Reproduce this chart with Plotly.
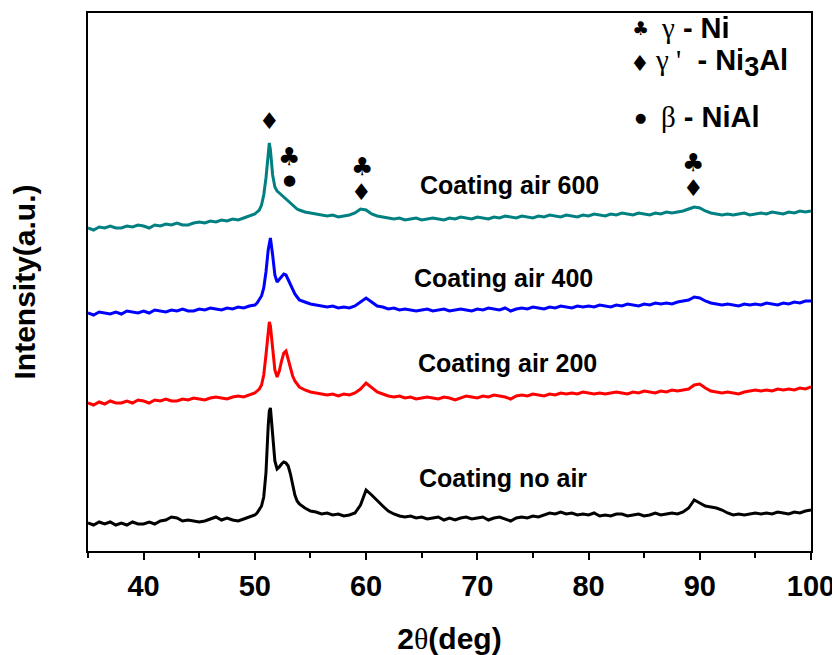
import plotly.graph_objects as go

# ---------------- data ----------------
two_theta = [
    35.0, 35.5, 36.0, 36.5, 37.0, 37.5, 38.0, 38.5, 39.0, 39.5,
    40.0, 40.5, 41.0, 41.5, 42.0, 42.5, 43.0, 43.5, 44.0, 44.5,
    45.0, 45.5, 46.0, 46.5, 47.0, 47.5, 48.0, 48.5, 49.0, 49.5, 50.0,
    50.2, 50.4, 50.6, 50.8, 51.0, 51.2, 51.3, 51.4, 51.6, 51.8,
    52.0, 52.2, 52.4, 52.6, 52.8, 53.0, 53.2, 53.4, 53.6, 53.8, 54.0,
    54.5, 55.0, 55.5, 56.0, 56.5, 57.0, 57.5, 58.0, 58.5, 59.0,
    59.5, 60.0, 60.5, 61.0, 61.5, 62.0, 62.5, 63.0, 63.5, 64.0,
    64.5, 65.0, 65.5, 66.0, 66.5, 67.0, 67.5, 68.0, 68.5, 69.0,
    69.5, 70.0, 70.5, 71.0, 71.5, 72.0, 72.5, 73.0, 73.5, 74.0,
    74.5, 75.0, 75.5, 76.0, 76.5, 77.0, 77.5, 78.0, 78.5, 79.0,
    79.5, 80.0, 80.5, 81.0, 81.5, 82.0, 82.5, 83.0, 83.5, 84.0,
    84.5, 85.0, 85.5, 86.0, 86.5, 87.0, 87.5, 88.0, 88.5, 89.0,
    89.5, 90.0, 90.5, 91.0, 91.5, 92.0, 92.5, 93.0, 93.5, 94.0,
    94.5, 95.0, 95.5, 96.0, 96.5, 97.0, 97.5, 98.0, 98.5, 99.0,
    99.5, 100.0,
]

i_no_air = [
    28, 26, 29, 27, 29, 26, 28, 26, 29, 27,
    27, 29, 27, 30, 31, 34, 33, 30, 31, 30,
    29, 30, 32, 34, 31, 33, 31, 30, 32, 34, 36,
    38, 41, 45, 54, 78, 125, 140, 143, 118, 90,
    82, 84, 87, 89, 88, 85, 77, 65, 56, 50, 47,
    43, 40, 39, 37, 38, 36, 37, 35, 36, 38,
    46, 61, 56, 50, 45, 40, 37, 35, 34, 35,
    33, 34, 32, 33, 34, 31, 33, 31, 33, 34,
    32, 33, 34, 31, 33, 34, 32, 30, 33, 34,
    33, 35, 34, 36, 38, 37, 39, 37, 38, 36,
    37, 36, 38, 35, 36, 35, 37, 37, 35, 36,
    37, 35, 36, 38, 36, 37, 38, 37, 39, 43,
    51, 48, 45, 44, 43, 41, 38, 36, 37, 36,
    37, 38, 37, 38, 37, 39, 38, 37, 39, 38,
    40, 41,
]

i_air_200 = [
    148, 146, 149, 147, 150, 148, 148, 150, 148, 151,
    150, 148, 151, 150, 152, 150, 150, 152, 151, 153,
    152, 151, 153, 154, 153, 152, 154, 155, 154, 156, 158,
    160, 162, 166, 176, 196, 222, 229, 225, 200, 181,
    174, 180, 190, 198, 200, 191, 181, 175, 170, 167, 164,
    161, 159, 158, 157, 156, 157, 155, 157, 156, 158,
    162, 168, 163, 159, 157, 155, 154, 155, 153, 154,
    152, 153, 154, 153, 152, 154, 153, 151, 153, 155,
    154, 153, 155, 154, 156, 155, 154, 152, 155, 156,
    155, 157, 156, 155, 157, 156, 158, 157, 158, 157,
    159, 158, 157, 158, 157, 158, 159, 158, 157, 159,
    158, 160, 159, 158, 160, 159, 161, 160, 161, 162,
    166, 167, 163, 160, 159, 158, 159, 158, 157, 159,
    160, 161, 160, 161, 160, 162, 161, 162, 161, 163,
    162, 164,
]

i_air_400 = [
    238, 236, 239, 238, 237, 239, 237, 240, 239, 238,
    240, 238, 241, 240, 239, 241, 240, 242, 240, 240,
    242, 241, 243, 242, 241, 243, 242, 244, 243, 245, 246,
    248, 251, 255, 263, 279, 301, 310, 313, 296, 276,
    269, 272, 275, 277, 276, 271, 266, 261, 257, 254, 251,
    249, 247, 246, 245, 244, 245, 243, 244, 243, 245,
    249, 253, 249, 245, 244, 242, 243, 241, 242, 241,
    240, 241, 242, 240, 241, 242, 240, 241, 242, 241,
    240, 242, 241, 243, 242, 241, 243, 240, 242, 243,
    242, 244, 243, 242, 244, 243, 245, 244, 243, 245,
    244, 245, 244, 246, 245, 244, 246, 245, 247, 246,
    245, 247, 246, 248, 247, 248, 247, 249, 250, 251,
    254, 253, 250, 248, 247, 246, 247, 246, 245, 247,
    246, 247, 246, 248, 247, 246, 248, 247, 249, 248,
    250, 250,
]

i_air_600 = [
    323, 321, 324, 323, 325, 323, 323, 325, 324, 326,
    325, 323, 326, 325, 327, 326, 328, 326, 326, 328,
    329, 328, 330, 329, 331, 330, 332, 331, 333, 335, 337,
    339, 341, 346, 356, 373, 398, 408, 401, 376, 364,
    360, 358, 356, 354, 352, 349, 347, 345, 344, 342, 341,
    339, 338, 337, 336, 335, 336, 334, 335, 336, 338,
    342, 341, 337, 335, 334, 333, 332, 333, 331, 332,
    333, 331, 332, 333, 332, 331, 333, 332, 334, 333,
    332, 334, 333, 332, 334, 333, 335, 334, 333, 335,
    334, 333, 335, 334, 336, 335, 334, 336, 335, 334,
    336, 335, 337, 336, 335, 337, 336, 338, 337, 336,
    338, 337, 336, 338, 337, 339, 338, 339, 340, 342,
    344, 343, 340, 338, 337, 336, 337, 336, 337, 338,
    336, 337, 338, 337, 339, 338, 337, 339, 338, 340,
    339, 340,
]

series_names = ["Coating no air", "Coating air 200", "Coating air 400", "Coating air 600"]
series_values = [i_no_air, i_air_200, i_air_400, i_air_600]
series_colors = ["#000000", "#ff0000", "#0000ff", "#008080"]

x_ticks = [40, 50, 60, 70, 80, 90, 100]

curve_labels = ["Coating air 600", "Coating air 400", "Coating air 200", "Coating no air"]
curve_label_x = [64.7, 64.1, 64.5, 64.6]
curve_label_y = [366, 273, 188, 73]

peak_symbols = ["\u2666", "\u2663", "\u25cf", "\u2663", "\u2666", "\u2663", "\u2666"]
peak_x = [51.3, 53.1, 53.1, 59.6, 59.6, 89.4, 89.4]
peak_y = [430, 395, 371, 385, 359, 389, 363]

legend_symbols = ["\u2663", "\u2666", "\u25cf"]
legend_greek = ["\u03b3", "\u03b3 '", "\u03b2"]
legend_phases = [" - Ni", "  - Ni<sub><span style='font-size:27px'>3</span></sub>Al", " - NiAl"]
legend_y = [523, 488, 434]

for v in series_values:
    assert len(v) == len(two_theta), len(v)

FONT = "Liberation Sans, Arial, sans-serif"
SYM = "DejaVu Sans"
SERIF = "Liberation Serif"
SYM_SIZE = {"\u2663": 25, "\u2666": 23, "\u25cf": 15}
LEG_SYM_SIZE = {"\u2663": 19, "\u2666": 22, "\u25cf": 13}

fig = go.Figure()
for name, vals, col in zip(series_names, series_values, series_colors):
    fig.add_trace(go.Scatter(x=two_theta, y=vals, mode="lines", name=name,
                             line=dict(color=col, width=3), showlegend=False))

ann = []
for t, x, y in zip(curve_labels, curve_label_x, curve_label_y):
    ann.append(dict(x=x, y=y, xref="x", yref="y", text=t, showarrow=False,
                    xanchor="left", yanchor="middle",
                    font=dict(family=FONT, size=25, color="black", weight="bold")))
for s, x, y in zip(peak_symbols, peak_x, peak_y):
    ann.append(dict(x=x, y=y, xref="x", yref="y", text=s, showarrow=False,
                    xanchor="center", yanchor="middle",
                    font=dict(family=SYM, size=SYM_SIZE[s], color="black")))

for i, (s, g, p, y) in enumerate(zip(legend_symbols, legend_greek, legend_phases, legend_y)):
    ann.append(dict(x=0.764, y=y, xref="paper", yref="y", text=s, showarrow=False,
                    xanchor="center", yanchor="middle",
                    font=dict(family=SYM, size=LEG_SYM_SIZE[s], color="black")))
    gx = 0.781 if i == 1 else 0.790
    txt = f"<span style='font-family:{SERIF};font-weight:normal'>{g}</span><b>{p}</b>"
    ann.append(dict(x=gx, y=y, xref="paper", yref="y", text=txt, showarrow=False,
                    xanchor="left", yanchor="middle",
                    font=dict(family=FONT, size=29, color="black")))

# the page body has an 8 px margin, so the figure is sized 8 px smaller
fig.update_layout(
    width=832, height=647,
    margin=dict(l=80, r=29, t=5, b=104),
    paper_bgcolor="white", plot_bgcolor="white",
    annotations=ann,
    xaxis=dict(
        range=[35, 100], tickvals=x_ticks, ticktext=[str(v) for v in x_ticks],
        ticks="outside", ticklen=7, tickwidth=2, tickcolor="black",
        showline=True, linewidth=2, linecolor="black", mirror=True,
        showgrid=False, zeroline=False, automargin=False,
        tickfont=dict(family=FONT, size=29, color="black", weight="bold"),
        ticklabelstandoff=1,
        minor=dict(dtick=5, tick0=35, ticks="outside", ticklen=5, tickwidth=2, tickcolor="black"),
        title=dict(text=f"<b>2</b><span style='font-family:{SERIF}'>\u03b8</span><b>(deg)</b>",
                   font=dict(family=FONT, size=30, color="black"), standoff=27),
    ),
    yaxis=dict(
        range=[0, 538], showticklabels=False, ticks="",
        showline=True, linewidth=2, linecolor="black", mirror=True,
        showgrid=False, zeroline=False, automargin=False,
        title=dict(text="<b>Intensity(a.u.)</b>",
                   font=dict(family=FONT, size=30, color="black"), standoff=42),
    ),
)

fig.write_html("out.html")
